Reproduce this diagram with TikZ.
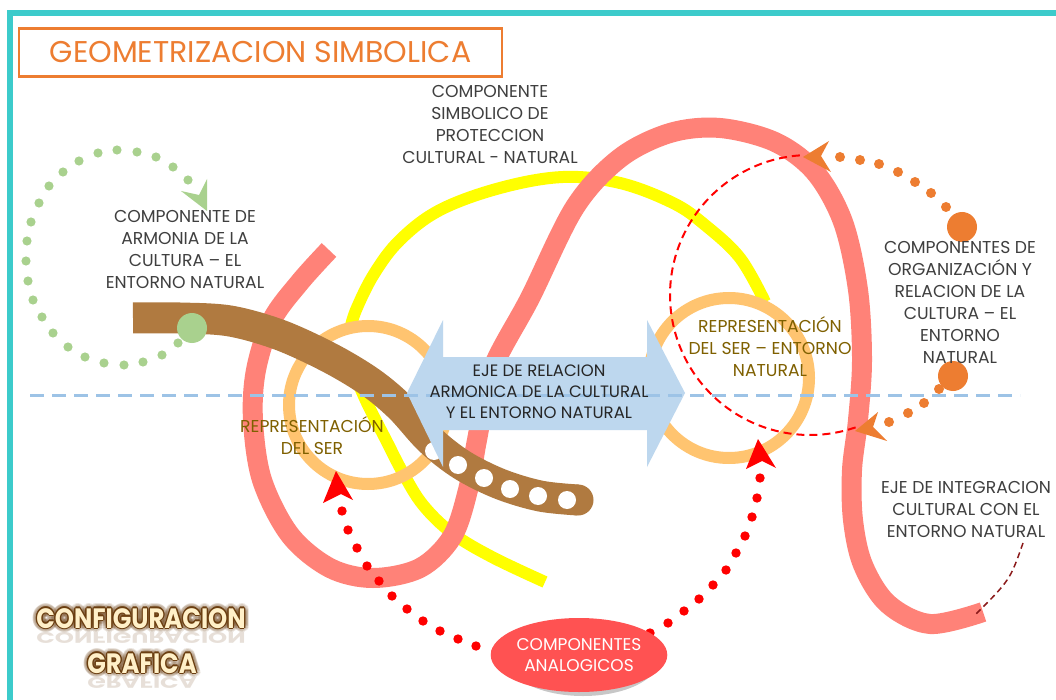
\documentclass[tikz,border=0pt]{standalone}
\usepackage{fontspec}
\setmainfont{Poppins}
\usetikzlibrary{shapes.geometric}
\definecolor{teal}{HTML}{3CCBCB}
\definecolor{orangeA}{HTML}{ED7D31}
\definecolor{salmon}{HTML}{FF8278}
\definecolor{ringC}{HTML}{FFC470}
\definecolor{yel}{HTML}{FFFF00}
\definecolor{brownB}{HTML}{B07A40}
\definecolor{arrowB}{HTML}{BDD7EE}
\definecolor{lineB}{HTML}{9DC3E6}
\definecolor{greenA}{HTML}{A9D18E}
\definecolor{redA}{HTML}{FF0000}
\definecolor{redE}{HTML}{FF5252}
\definecolor{olive}{HTML}{7F6000}
\definecolor{labgray}{HTML}{3F3F3F}
\definecolor{darkred}{HTML}{8B1A1A}
\definecolor{wabrown}{HTML}{6B3E10}
\definecolor{wacream}{HTML}{FFF0C8}
\tikzset{
  lbl/.style={font=\fontsize{17.2}{22}\selectfont, text=labgray, align=center, inner sep=0pt},
  olbl/.style={font=\fontsize{17.2}{22}\selectfont, text=olive, align=center, inner sep=0pt},
  ringline/.style={draw=ringC, line width=12pt},
  bigline/.style={draw=salmon, line width=20pt},
  yelline/.style={draw=yel, line width=12pt},
  gdot/.style={fill=greenA},
  odot/.style={fill=orangeA},
  rdot/.style={fill=redA},
  wafont/.style={font=\fontsize{28}{30}\bfseries\selectfont, xscale=0.87, anchor=base, inner sep=0pt},
}
\newcommand\wordart[3]{%
  \foreach \a in {0,20,...,340}{\node[wafont, text=wabrown, opacity=0.11] at ([shift={(\a:4.5)}] #1) {#2};}
  \foreach \a in {0,45,...,315}{\node[wafont, text=wabrown] at ([shift={(\a:1.3)}] #1) {#2};}
  \node[wafont, text=wacream] (#3) at (#1) {#2};
}
\begin{document}
\begin{tikzpicture}[x=1pt,y=-1pt]
\useasboundingbox (0,0) rectangle (1056,700);
\fill[white] (0,0) rectangle (1056,700);
% border
\draw[teal, line width=6pt] (10,703) -- (10,13) -- (1060,13);
% title
\node[draw=orangeA, line width=2.5pt, minimum width=483pt, minimum height=48pt, inner sep=0pt,
  font=\fontsize{30}{32}\selectfont, text=orangeA] (title) at (260.5,52.5) {GEOMETRIZACION SIMBOLICA};
% yellow arc
\draw[yelline] plot[smooth, tension=0.6] coordinates {(765,302) (740,258) (705,225) (673,203) (620,183) (563,177) (500,188) (440,210) (400,240) (374,274) (356,310) (350,330)};
\draw[yelline] plot[smooth, tension=0.6] coordinates {(356,378) (368,405) (386,440) (403,473) (423,505) (452,533) (492,557) (545,582)};
% rings
\draw[ringline] (368,405) circle (79);
\draw[ringline] (729,378) circle (80);
% salmon band
\draw[bigline] plot[smooth, tension=0.55] coordinates {(329,250) (300,282) (272,320) (256,370) (253,420) (262,480) (290,535) (330,568) (373,578) (420,568) (452,537) (468,490) (477,440) (492,370) (530,298) (575,207) (620,158) (670,133) (720,128) (775,142) (815,172) (843,222) (858,290) (862,360) (858,420) (852,470) (853,520) (863,565) (888,604) (930,624) (983,612)};
% brown band
\draw[draw=brownB, line width=31pt] plot[smooth, tension=0.55] coordinates {(133,318) (180,318) (230,321) (280,335) (330,358) (370,382) (400,407) (430,440) (462,465) (500,484) (540,496) (578,500)};
\fill[brownB] (578,500) circle (15.5);
\foreach \p in {(434,451),(458,465),(484,478),(510,489),(538,496),(567,500)} \fill[white] \p circle (9);
% green dotted loop
\foreach \p in {(178,343),(162,355),(143,362),(124,365),(104,363),(85,357),(68,347),(53,333),(42,317),(33,300),(28,281),(26,261),(27,241),(31,222),(39,203),(49,186),(63,172),(79,161),(98,153),(117,150),(137,152),(156,157),(173,167),(188,180)} \fill[gdot] \p circle (4.6);
\fill[gdot] (192,328) circle (15);
\fill[gdot] (207,211) -- (207,179) -- (199,195) -- (181,191) -- cycle;
% double arrow
\fill[arrowB] (407,393) -- (443,320) -- (443,357) -- (647,357) -- (647,320) -- (685,393) -- (647,467) -- (647,430) -- (443,430) -- (443,467) -- cycle;
% blue dashed axis
\draw[lineB, line width=2.6pt, dash pattern=on 14pt off 8pt] (30,395.5) -- (1020,395.5);
\node[font=\fontsize{16.5}{21}\selectfont, text=black!85, align=center, inner sep=0pt] (eje) at (539,392) {EJE DE RELACION\\ARMONICA DE LA CULTURAL\\Y EL ENTORNO NATURAL};
% red dashed circle arc
\draw[redA, line width=2pt, dash pattern=on 8pt off 5pt] plot[domain=71:267, samples=80, smooth] ({810+140*cos(\x)},{295+140*sin(\x)});
% orange dots and arrowheads
\foreach \p in {(840,157),(860,160),(879,164),(898,172),(915,182),(931,193),(946,207),(939,389),(924,403),(908,413),(889,422)} \fill[odot] \p circle (5);
\fill[odot] (962,227) circle (15);
\fill[odot] (953,376) circle (15);
\fill[odot] (803,157) -- (829,141) -- (821,156) -- (831,172) -- cycle;
\fill[odot] (855,431) -- (878,412) -- (873,427) -- (887,441) -- cycle;
% red dotted arcs
\foreach \p in {(342,511),(348,530),(357,548),(367,566),(379,581),(392,596),(407,609),(423,621),(440,631),(458,639),(476,646),(496,651),(650,633),(668,623),(684,611),(699,599),(713,585),(726,570),(736,553),(745,536),(752,517),(757,498),(760,478)} \fill[rdot] \p circle (4.7);
\fill[rdot] (336,471) -- (353,500) -- (341,494) -- (323,503) -- cycle;
\fill[rdot] (758,439) -- (776,468) -- (762,461) -- (746,469) -- cycle;
% analog ellipse
\fill[black, opacity=0.22] (583,659) ellipse [x radius=76, y radius=37];
\node[ellipse, fill=redE, minimum width=152pt, minimum height=74pt, inner sep=0pt, text=white, align=center, font=\fontsize{17}{20.5}\selectfont] (analog) at (579,655) {COMPONENTES\\ANALOGICOS};
% labels
\node[lbl] (simb) at (490,124) {COMPONENTE\\SIMBOLICO DE\\PROTECCION\\CULTURAL - NATURAL};
\node[lbl] (armo) at (185,249) {COMPONENTE DE\\ARMONIA DE LA\\CULTURA – EL\\ENTORNO NATURAL};
\node[lbl] (orga) at (960,302) {COMPONENTES DE\\ORGANIZACIÓN Y\\RELACION DE LA\\CULTURA – EL\\ENTORNO\\NATURAL};
\node[olbl] (rser) at (312,436) {REPRESENTACIÓN\\DEL SER};
\node[olbl] (rent) at (770,347) {REPRESENTACIÓN\\DEL SER – ENTORNO\\NATURAL};
\node[lbl] (inte) at (966,509) {EJE DE INTEGRACION\\CULTURAL CON EL\\ENTORNO NATURAL};
% dashed leader
\coordinate (lead) at (1023,543);
\draw[darkred, line width=1.5pt, dash pattern=on 6pt off 4pt] (lead) .. controls (1010,580) .. (975,615);
% wordart
\node[wafont, text=wabrown, opacity=0.16, yscale=-0.55] (refl1) at (141,632) {CONFIGURACION};
\node[wafont, text=wabrown, opacity=0.16, yscale=-0.55] (refl2) at (142,677) {GRAFICA};
\wordart{141,628}{CONFIGURACION}{conf}
\wordart{142,673}{GRAFICA}{graf}
\end{tikzpicture}
\end{document}
